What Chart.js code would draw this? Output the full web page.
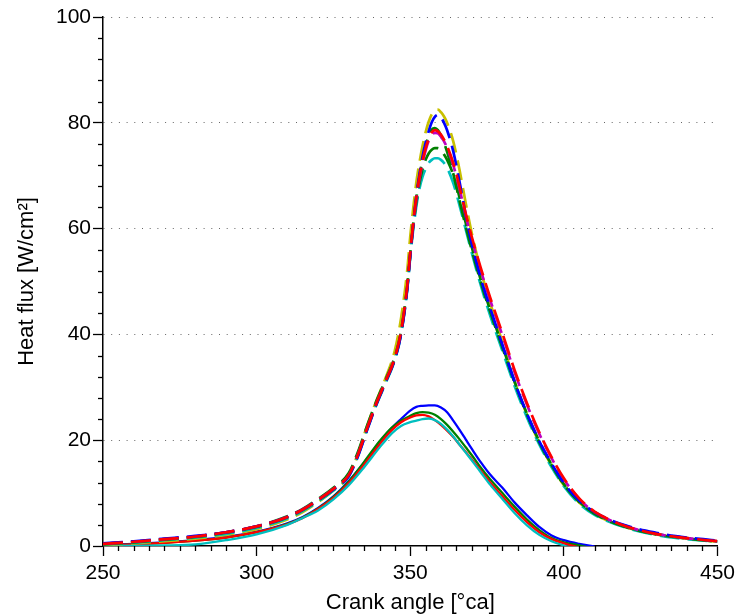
<!DOCTYPE html>
<html>
<head>
<meta charset="utf-8">
<script src="https://cdn.jsdelivr.net/npm/chart.js@4.4.1/dist/chart.umd.min.js"></script>
<style>
  html, body { margin: 0; padding: 0; background: #ffffff; }
  #wrap { width: 740px; height: 616px; position: relative; }
</style>
</head>
<body>
<div id="wrap"><canvas id="c"></canvas></div>
<script>
// ---- Data ----
const dashedAngles = [250,260,270,280,290,300,310,315,320,325,330,333,336,339,342,345,347,349,350,351,352,353,354,355,356,357,358,359,360,361,362,364,366,368,370,373,376,380,384,388,392,396,400,405,410,420,430,440,450];

const dashedRed     = [0.4,0.8,1.3,1.8,2.6,3.7,5.5,6.9,8.7,10.8,13.4,17.3,22.3,27.0,31.2,35.6,40.5,49.0,55.5,61.2,66.0,69.8,72.8,75.2,77.0,78.2,78.6,78.4,77.8,76.8,75.6,72.4,68.0,63.0,58.5,52.5,47.0,40.2,33.2,27.0,21.5,16.8,12.8,9.0,6.5,3.8,2.3,1.5,0.9];
const dashedBlue    = [0.5,0.9,1.4,1.9,2.6,3.7,5.5,6.9,8.7,10.7,13.2,17.0,22.0,26.8,31.0,35.3,40.0,48.5,55.0,61.0,66.3,70.3,73.6,76.2,78.4,80.1,81.1,81.5,81.0,80.0,78.6,74.6,69.0,62.8,57.2,50.5,45.0,38.0,31.0,25.0,19.8,15.6,11.9,8.6,6.4,3.9,2.5,1.6,1.0];
const dashedGreen   = [0.4,0.8,1.3,1.8,2.6,3.7,5.6,7.0,8.9,11.0,13.8,17.8,22.8,27.4,31.5,35.8,40.6,49.0,55.3,61.0,65.8,69.8,73.0,75.6,77.5,78.7,79.0,78.6,77.6,76.2,74.5,70.4,65.4,60.5,56.0,49.8,44.3,37.5,30.8,24.8,19.6,15.3,11.6,8.3,6.1,3.6,2.2,1.4,0.8];
const dashedGreen2  = [0.3,0.7,1.2,1.7,2.5,3.6,5.4,6.8,8.6,10.7,13.4,17.2,22.2,26.9,31.0,35.4,40.2,48.6,55.0,60.6,65.0,68.6,71.2,73.0,74.2,74.9,75.2,75.2,74.8,74.0,73.0,70.2,66.0,61.2,56.6,50.2,44.6,37.8,31.0,25.0,19.8,15.4,11.7,8.4,6.2,3.7,2.3,1.5,0.9];
const dashedCyan    = [0.3,0.6,1.1,1.6,2.3,3.4,5.2,6.6,8.4,10.5,13.2,17.0,22.0,26.7,30.8,35.2,40.0,48.3,54.6,60.0,64.3,67.6,69.8,71.3,72.4,73.0,73.3,73.3,73.0,72.4,71.5,68.6,64.5,60.0,55.5,49.2,43.6,36.9,30.2,24.3,19.2,14.9,11.3,8.0,5.9,3.5,2.1,1.3,0.8];
const dashedMagenta = [0.4,0.8,1.3,1.8,2.6,3.7,5.5,6.9,8.7,10.8,13.4,17.3,22.3,27.0,31.2,35.6,40.4,48.8,55.2,60.8,65.6,69.4,72.4,74.8,76.6,77.7,78.1,78.0,77.4,76.5,75.3,72.0,67.6,62.6,58.0,52.0,46.5,39.8,32.8,26.7,21.2,16.6,12.6,8.9,6.4,3.8,2.3,1.5,0.9];
const dashedYellow  = [0.2,0.5,0.9,1.4,2.1,3.2,5.0,6.4,8.3,10.5,13.3,17.5,22.8,27.5,31.8,37.0,43.0,52.0,58.5,64.0,68.8,72.5,75.6,78.2,80.2,81.6,82.4,82.5,82.0,81.2,80.0,76.5,71.2,65.0,59.2,52.0,46.0,38.5,31.0,24.8,19.5,15.2,11.5,8.2,6.0,3.6,2.2,1.4,0.8];

const solidAngles = [250,260,270,280,290,300,310,315,320,325,330,335,340,344,347,350,352,354,356,358,360,362,364,366,368,370,373,376,380,384,388,392,396,400,405,410];

const solidBlue  = [0.2,0.4,0.7,1.1,1.7,2.7,4.3,5.5,7.2,9.4,12.3,15.8,19.6,22.3,24.0,25.6,26.3,26.5,26.6,26.6,26.2,25.3,23.7,22.0,20.2,18.4,15.8,13.5,11.0,8.2,5.8,3.6,2.0,1.1,0.4,-0.1];
const solidGreen = [0.1,0.3,0.6,1.0,1.6,2.6,4.2,5.4,7.1,9.3,12.2,15.9,19.8,22.4,23.7,24.6,25.1,25.3,25.2,24.8,24.0,22.9,21.6,20.2,18.7,17.2,14.8,12.6,10.0,7.4,5.0,3.0,1.5,0.7,0.1,-0.5];
const solidRed   = [0.1,0.3,0.6,1.0,1.6,2.6,4.1,5.3,7.0,9.1,11.9,15.4,19.2,21.9,23.4,24.3,24.7,24.8,24.5,23.8,22.9,21.8,20.6,19.2,17.8,16.4,14.2,12.0,9.4,6.8,4.5,2.6,1.3,0.5,-0.3,null];
const solidCyan  = [0.0,0.05,0.1,0.3,1.1,2.2,4.0,5.3,6.7,8.8,11.5,14.9,18.6,21.3,22.7,23.4,23.7,24.0,24.1,23.8,23.1,22.0,20.7,19.2,17.7,16.2,13.9,11.6,8.9,6.2,3.9,2.1,0.9,0.1,-0.8,null];

const xTicksMajor = [250, 300, 350, 400, 450];
const yTicksMajor = [0, 20, 40, 60, 80, 100];

// ---- Helpers ----
function pts(xs, ys) {
  const out = [];
  for (let i = 0; i < xs.length; i++) out.push({ x: xs[i], y: ys[i] });
  return out;
}
function dashed(label, color, ys) {
  return { label, data: pts(dashedAngles, ys), borderColor: color, borderWidth: 2.7,
    borderDash: [20, 8], pointRadius: 0, fill: false, cubicInterpolationMode: 'monotone' };
}
function solid(label, color, ys) {
  return { label, data: pts(solidAngles, ys), borderColor: color, borderWidth: 2.3,
    pointRadius: 0, fill: false, cubicInterpolationMode: 'monotone' };
}

const datasets = [
  dashed('Red dashed', '#ff0000', dashedRed),
  dashed('Blue dashed', '#0000ff', dashedBlue),
  dashed('Magenta dashed', '#bf00bf', dashedMagenta),
  dashed('Green dashed', '#008000', dashedGreen),
  dashed('Green dashed 2', '#008000', dashedGreen2),
  dashed('Cyan dashed', '#00bfbf', dashedCyan),
  dashed('Yellow dashed', '#c8c000', dashedYellow),
  solid('Cyan', '#00bfbf', solidCyan),
  solid('Red', '#ff0000', solidRed),
  solid('Green', '#008000', solidGreen),
  solid('Blue', '#0000ff', solidBlue),
];

const minorTicks = {
  id: 'minorTicks',
  afterDraw(chart) {
    const ctx = chart.ctx;
    const xs = chart.scales.x, ys = chart.scales.y;
    ctx.save();
    ctx.strokeStyle = '#000';
    ctx.lineWidth = 1.3;
    ctx.setLineDash([]);
    xs.ticks.forEach(t => {
      if (!xTicksMajor.includes(t.value)) {
        const px = Math.round(xs.getPixelForValue(t.value)) + 0.5;
        ctx.beginPath(); ctx.moveTo(px, xs.top); ctx.lineTo(px, xs.top + 5); ctx.stroke();
      }
    });
    ys.ticks.forEach(t => {
      if (!yTicksMajor.includes(t.value)) {
        const py = Math.round(ys.getPixelForValue(t.value)) + 0.5;
        ctx.beginPath(); ctx.moveTo(ys.right, py); ctx.lineTo(ys.right - 5, py); ctx.stroke();
      }
    });
    ctx.restore();
  }
};

const FONT = 'Liberation Sans, Arial, Helvetica, sans-serif';

new Chart(document.getElementById('c'), {
  type: 'line',
  data: { datasets },
  plugins: [minorTicks],
  options: {
    responsive: true,
    maintainAspectRatio: false,
    animation: false,
    layout: { padding: { left: 0, right: 22, top: 17, bottom: 0 } },
    plugins: { legend: { display: false }, tooltip: { enabled: false } },
    scales: {
      x: {
        type: 'linear', min: 250, max: 450,
        afterFit(scale) { scale.height = 70; },
        ticks: { stepSize: 5, autoSkip: false, maxRotation: 0, padding: 5, color: '#000',
          font: { family: FONT, size: 21 },
          callback: v => (xTicksMajor.includes(v) ? String(v) : '') },
        grid: { drawOnChartArea: false, drawTicks: true, tickLength: 10, tickWidth: 1.3,
          tickColor: ctx => (xTicksMajor.includes(ctx.tick.value) ? '#000' : 'rgba(0,0,0,0)') },
        border: { display: true, color: '#000', width: 1.5 },
        title: { display: true, text: 'Crank angle [°ca]', color: '#000',
          font: { family: FONT, size: 22 }, padding: { top: 0, bottom: 0 } }
      },
      y: {
        type: 'linear', min: 0, max: 100,
        afterFit(scale) { scale.width = 103; },
        ticks: { stepSize: 4, autoSkip: false, padding: 2, color: '#000',
          font: { family: FONT, size: 21 },
          callback: v => (yTicksMajor.includes(v) ? String(v) : '') },
        grid: { drawOnChartArea: true, drawTicks: true, tickLength: 10, tickWidth: 1.3,
          lineWidth: 1,
          color: ctx => ((ctx.tick && ctx.tick.value % 20 === 0 && ctx.tick.value !== 0) ? '#666' : 'rgba(0,0,0,0)'),
          tickColor: ctx => (yTicksMajor.includes(ctx.tick.value) ? '#000' : 'rgba(0,0,0,0)') },
        border: { display: true, color: '#000', width: 1.5, dash: [1, 6.7] },
        title: { display: true, text: 'Heat flux [W/cm²]', color: '#000',
          font: { family: FONT, size: 22 }, padding: { top: 14, bottom: 0 } }
      }
    }
  }
});
</script>
</body>
</html>
